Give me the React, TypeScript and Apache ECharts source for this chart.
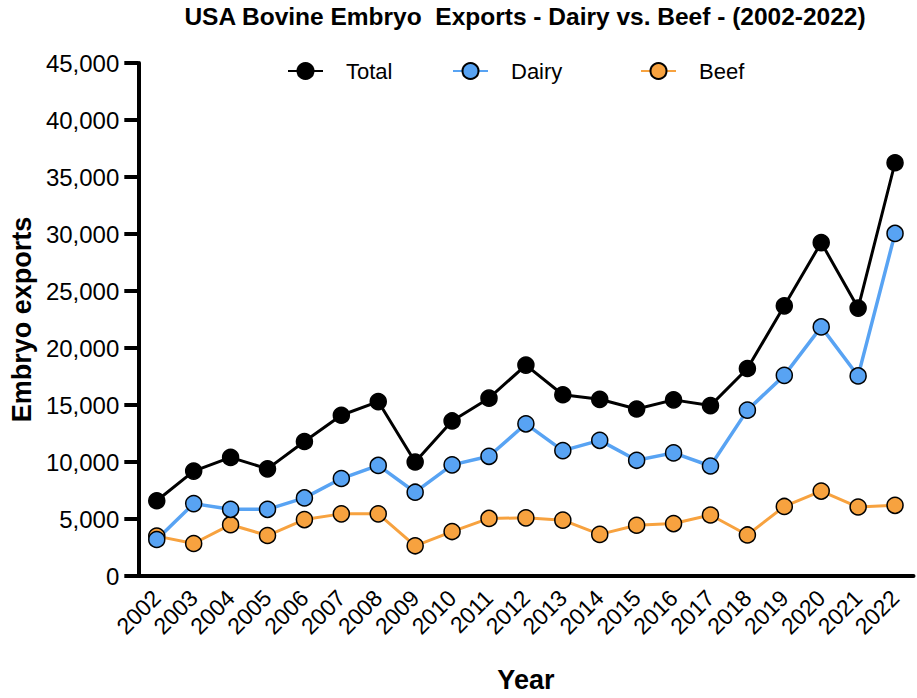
import React, { useEffect, useRef } from "react";
import * as echarts from "echarts";

const years = ["2002","2003","2004","2005","2006","2007","2008","2009","2010","2011","2012","2013","2014","2015","2016","2017","2018","2019","2020","2021","2022"];
const total = [6600, 9200, 10400, 9400, 11800, 14100, 15300, 10000, 13600, 15600, 18500, 15900, 15500, 14650, 15450, 14950, 18200, 23700, 29250, 23500, 36250];
const dairy = [3200, 6350, 5850, 5850, 6850, 8550, 9700, 7350, 9750, 10500, 13350, 11000, 11900, 10150, 10800, 9650, 14550, 17600, 21850, 17550, 30050];
const beef = [3500, 2850, 4500, 3550, 4950, 5450, 5450, 2650, 3900, 5050, 5100, 4900, 3650, 4450, 4600, 5350, 3600, 6100, 7450, 6050, 6200];

const FONT = "'Liberation Sans', Arial, Helvetica, sans-serif";
const BLUE = "#58A3F3";
const ORANGE = "#F7A23F";

export default function App() {
  const ref = useRef<HTMLDivElement>(null);
  useEffect(() => {
    if (!ref.current) return;
    const chart = echarts.init(ref.current, null, { renderer: "svg" });
    const legendBase = {
      orient: "horizontal",
      top: 60,
      padding: 0,
      itemWidth: 35,
      itemHeight: 20,
      textStyle: { fontFamily: FONT, fontSize: 22, color: "#000", padding: [0, 0, 0, 18] },
    };
    chart.setOption({
      animation: false,
      backgroundColor: "#fff",
      title: {
        text: "USA Bovine Embryo  Exports - Dairy vs. Beef - (2002-2022)",
        left: 525,
        top: 4,
        padding: 0,
        textAlign: "center",
        textStyle: { fontFamily: FONT, fontSize: 24.5, fontWeight: "bold", color: "#000" },
      },
      legend: [
        { ...legendBase, left: 287, data: ["Total"] },
        { ...legendBase, left: 452, data: ["Dairy"] },
        { ...legendBase, left: 640, data: ["Beef"] },
      ],
      grid: { left: 138.3, right: 3.5, top: 63, bottom: 119.5, containLabel: false },
      xAxis: {
        type: "category",
        data: years,
        boundaryGap: true,
        name: "Year",
        nameLocation: "middle",
        nameGap: 90,
        nameTextStyle: { fontFamily: FONT, fontSize: 27, fontWeight: "bold", color: "#000" },
        axisLine: { lineStyle: { color: "#000", width: 4 } },
        axisTick: { alignWithLabel: true, length: 13, lineStyle: { color: "#000", width: 4 } },
        axisLabel: { interval: 0, rotate: 45, margin: 18, fontFamily: FONT, fontSize: 23, color: "#000" },
        splitLine: { show: false },
      },
      yAxis: {
        type: "value",
        min: 0,
        max: 45000,
        interval: 5000,
        name: "Embryo exports",
        nameLocation: "middle",
        nameRotate: 90,
        nameGap: 103,
        nameTextStyle: { fontFamily: FONT, fontSize: 27, fontWeight: "bold", color: "#000" },
        axisLine: { show: true, lineStyle: { color: "#000", width: 4 } },
        axisTick: { show: true, length: 14, lineStyle: { color: "#000", width: 4 } },
        axisLabel: {
          margin: 19,
          fontFamily: FONT,
          fontSize: 24,
          color: "#000",
          formatter: (v: number) => v.toLocaleString("en-US"),
        },
        splitLine: { show: false },
      },
      series: [
        {
          name: "Beef",
          type: "line",
          data: beef,
          symbol: "circle",
          symbolSize: 16,
          lineStyle: { color: ORANGE, width: 3 },
          itemStyle: { color: ORANGE, borderColor: "#000", borderWidth: 1.5 },
        },
        {
          name: "Dairy",
          type: "line",
          data: dairy,
          symbol: "circle",
          symbolSize: 16,
          lineStyle: { color: BLUE, width: 3.5 },
          itemStyle: { color: BLUE, borderColor: "#000", borderWidth: 1.5 },
        },
        {
          name: "Total",
          type: "line",
          data: total,
          symbol: "circle",
          symbolSize: 16,
          lineStyle: { color: "#000", width: 3 },
          itemStyle: { color: "#000", borderColor: "#000", borderWidth: 1.5 },
        },
      ],
    });
    return () => chart.dispose();
  }, []);
  return (
    <div
      ref={ref}
      style={{ position: "fixed", left: 0, top: 0, width: 917, height: 698, background: "#fff" }}
    />
  );
}
